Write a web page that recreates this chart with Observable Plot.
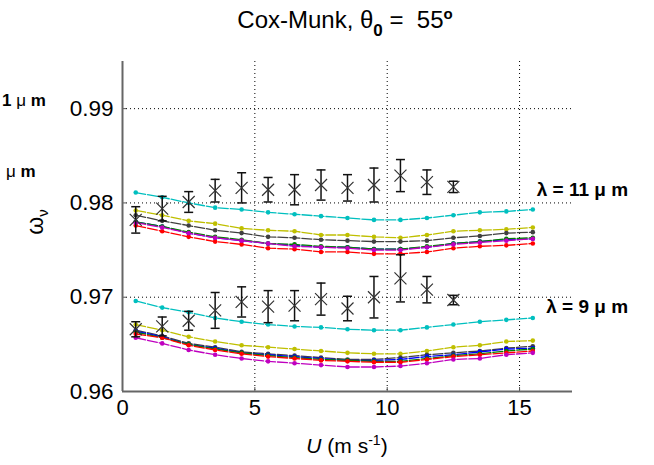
<!DOCTYPE html>
<html><head><meta charset="utf-8">
<script src="https://cdn.jsdelivr.net/npm/d3@7"></script>
<script src="https://cdn.jsdelivr.net/npm/@observablehq/plot@0.6"></script>
<style>
body{margin:0;background:#fff;font-family:"Liberation Sans",Arial,sans-serif;}
#wrap{position:relative;width:654px;height:465px;overflow:hidden;}
.ov{position:absolute;white-space:nowrap;color:#000;line-height:1;}
</style></head><body>
<div id="wrap">
<div id="chart"></div>
<div class="ov" style="left:0;width:690px;top:6px;text-align:center;font-size:24px;">Cox-Munk, θ<sub style="font-size:17px;font-weight:bold;vertical-align:-8px">0</sub> =&nbsp; 55<sup style="font-size:15px;font-weight:bold;vertical-align:9px">o</sup></div>
<div class="ov" style="left:2px;top:92px;font-size:17px;font-weight:bold;">1 <span style="font-weight:normal">μ</span> m</div>
<div class="ov" style="left:6px;top:163px;font-size:17px;font-weight:bold;"><span style="font-weight:normal">μ</span> m</div>
<div class="ov" style="left:37px;top:222px;font-size:23px;transform:translate(-50%,-50%) rotate(-90deg);">ω<sub style="font-size:15px;vertical-align:-5px">ν</sub></div>
<div class="ov" style="left:0;width:694px;top:433px;text-align:center;font-size:21px;"><i>U</i> (m s<sup style="font-size:14px;vertical-align:8px">-1</sup>)</div>
</div>
<script>
const U = [0.5,1.5,2.5,3.5,4.5,5.5,6.5,7.5,8.5,9.5,10.5,11.5,12.5,13.5,14.5,15.5];
const Uobs = [0.5,1.5,2.5,3.5,4.5,5.5,6.5,7.5,8.5,9.5,10.5,11.5,12.5];

// lambda = 11 um
const cyan11    = [0.9811,0.9806,0.9800,0.9795,0.9793,0.9790,0.9788,0.9786,0.9784,0.9782,0.9782,0.9784,0.9787,0.9790,0.9791,0.9793];
const yellow11  = [0.9792,0.9787,0.9781,0.9778,0.9773,0.9771,0.9770,0.9766,0.9766,0.9764,0.9763,0.9766,0.9770,0.9771,0.9772,0.9774];
const gray11    = [0.9787,0.9781,0.9776,0.9771,0.9768,0.9764,0.9763,0.9761,0.9760,0.9759,0.9759,0.9760,0.9763,0.9765,0.9768,0.9769];
const blue11    = [0.9780,0.9775,0.9768,0.9763,0.9760,0.9757,0.9755,0.9753,0.9753,0.9751,0.9751,0.9753,0.9757,0.9759,0.9761,0.9762];
const green11   = [0.9780,0.9775,0.9769,0.9764,0.9761,0.9757,0.9756,0.9754,0.9753,0.9751,0.9751,0.9754,0.9757,0.9759,0.9762,0.9763];
const magenta11 = [0.9779,0.9774,0.9768,0.9763,0.9760,0.9757,0.9754,0.9753,0.9752,0.9750,0.9750,0.9753,0.9756,0.9758,0.9760,0.9762];
const red11     = [0.9776,0.9770,0.9764,0.9759,0.9756,0.9752,0.9751,0.9748,0.9748,0.9746,0.9746,0.9748,0.9752,0.9754,0.9755,0.9757];
const obs11 = [0.9782,0.9794,0.9801,0.9813,0.9816,0.9814,0.9814,0.9819,0.9816,0.9819,0.9829,0.9822,0.9817];
const err11 = [0.0014,0.0013,0.0011,0.0012,0.0016,0.0013,0.0016,0.0016,0.0014,0.0018,0.0017,0.0013,0.0006];

// lambda = 9 um
const cyan9    = [0.9696,0.9689,0.9684,0.9678,0.9674,0.9671,0.9669,0.9668,0.9666,0.9665,0.9665,0.9668,0.9671,0.9674,0.9676,0.9678];
const yellow9  = [0.9671,0.9665,0.9658,0.9653,0.9649,0.9647,0.9645,0.9643,0.9641,0.9640,0.9640,0.9643,0.9647,0.9649,0.9653,0.9654];
const gray9    = [0.9665,0.9659,0.9651,0.9647,0.9642,0.9640,0.9638,0.9636,0.9634,0.9634,0.9636,0.9639,0.9641,0.9643,0.9646,0.9648];
const blue9    = [0.9664,0.9658,0.9650,0.9646,0.9641,0.9639,0.9637,0.9635,0.9633,0.9633,0.9634,0.9637,0.9639,0.9642,0.9645,0.9646];
const green9   = [0.9663,0.9657,0.9650,0.9645,0.9641,0.9638,0.9636,0.9634,0.9633,0.9632,0.9632,0.9635,0.9638,0.9640,0.9643,0.9645];
const red9     = [0.9661,0.9657,0.9649,0.9644,0.9640,0.9637,0.9635,0.9633,0.9632,0.9631,0.9631,0.9634,0.9637,0.9639,0.9641,0.9643];
const magenta9 = [0.9657,0.9651,0.9644,0.9639,0.9635,0.9632,0.9630,0.9628,0.9626,0.9626,0.9627,0.9630,0.9634,0.9635,0.9639,0.9641];
const obs9 = [0.9666,0.9669,0.9675,0.9686,0.9695,0.9690,0.9691,0.9698,0.9688,0.9700,0.9720,0.9708,0.9697];
const err9 = [0.0008,0.0010,0.0010,0.0019,0.0016,0.0017,0.0016,0.0017,0.0013,0.0022,0.0025,0.0014,0.0005];

const xTicks = [0,5,10,15];
const yTicks = [0.96,0.97,0.98,0.99];
const labelText = ["λ = 11 μ m","λ = 9 μ m"];
const labelX = [19.1,19.1];
const labelY = [0.9814,0.9690];

const series = [
  [cyan11,"#00bfbf"],[yellow11,"#bfbf00"],[gray11,"#404040"],[blue11,"#0000ff"],[green11,"#008000"],[red11,"#ff0000"],[magenta11,"#bf00bf"],
  [cyan9,"#00bfbf"],[yellow9,"#bfbf00"],[gray9,"#404040"],[blue9,"#0000ff"],[green9,"#008000"],[red9,"#ff0000"],[magenta9,"#bf00bf"]
];

const hline = {draw(ctx, size){ const r = Math.sqrt(size/Math.PI); ctx.moveTo(-r,0); ctx.lineTo(r,0); }};
const xmark = {draw(ctx, size){ const r = Math.sqrt(size/Math.PI); ctx.moveTo(-r,-r); ctx.lineTo(r,r); ctx.moveTo(-r,r); ctx.lineTo(r,-r); }};

const obsRows = [];
Uobs.forEach((u,i)=>{ obsRows.push({U:u, v:obs11[i], e:err11[i]}); obsRows.push({U:u, v:obs9[i], e:err9[i]}); });

const marks = [
  Plot.gridX(xTicks.slice(1), {stroke:"#000", strokeOpacity:1, strokeDasharray:"1,3", strokeWidth:1}),
  Plot.gridY(yTicks.slice(1), {stroke:"#000", strokeOpacity:1, strokeDasharray:"1,3", strokeWidth:1}),
];
for (const [vals,col] of series) {
  const rows = U.map((u,i)=>({U:u, v:vals[i]}));
  marks.push(Plot.line(rows, {x:"U", y:"v", stroke:col, strokeWidth:1.3, strokeDasharray:"10,2"}));
  marks.push(Plot.dot(rows, {x:"U", y:"v", fill:col, r:2.3, stroke:"none"}));
}
marks.push(
  Plot.ruleX(obsRows, {x:"U", y1:d=>d.v-d.e, y2:d=>d.v+d.e, stroke:"#111", strokeWidth:1.5}),
  Plot.dot(obsRows, {x:"U", y:d=>d.v+d.e, symbol:hline, r:4.5, stroke:"#111", strokeWidth:1.5}),
  Plot.dot(obsRows, {x:"U", y:d=>d.v-d.e, symbol:hline, r:4.5, stroke:"#111", strokeWidth:1.5}),
  Plot.dot(obsRows, {x:"U", y:"v", symbol:xmark, r:6, stroke:"#333", strokeWidth:1.2}),
  Plot.axisX({ticks:xTicks, tickSize:-4, tickPadding:12, fontSize:22, stroke:"#555", label:null, tickFormat:d=>String(d)}),
  Plot.axisY({ticks:yTicks, tickSize:-4, tickPadding:13, fontSize:22.5, stroke:"#555", label:null, tickFormat:d=>d.toFixed(2)}),
  Plot.ruleX([0], {stroke:"#666", strokeWidth:2}),
  Plot.ruleY([0.96], {stroke:"#666", strokeWidth:2}),
  Plot.text(labelText.map((t,i)=>({t, x:labelX[i], y:labelY[i]})), {x:"x", y:"y", text:"t", textAnchor:"end", fontSize:19, fontWeight:"bold", fill:"#000"})
);

const chart = Plot.plot({
  width:654, height:465,
  marginLeft:122, marginRight:82, marginTop:61, marginBottom:74,
  style:{fontFamily:"'Liberation Sans', Arial, sans-serif", background:"#fff", color:"#000", overflow:"visible"},
  x:{domain:[0,17]},
  y:{domain:[0.96,0.995]},
  marks
});
document.getElementById("chart").appendChild(chart);
</script>
</body></html>
